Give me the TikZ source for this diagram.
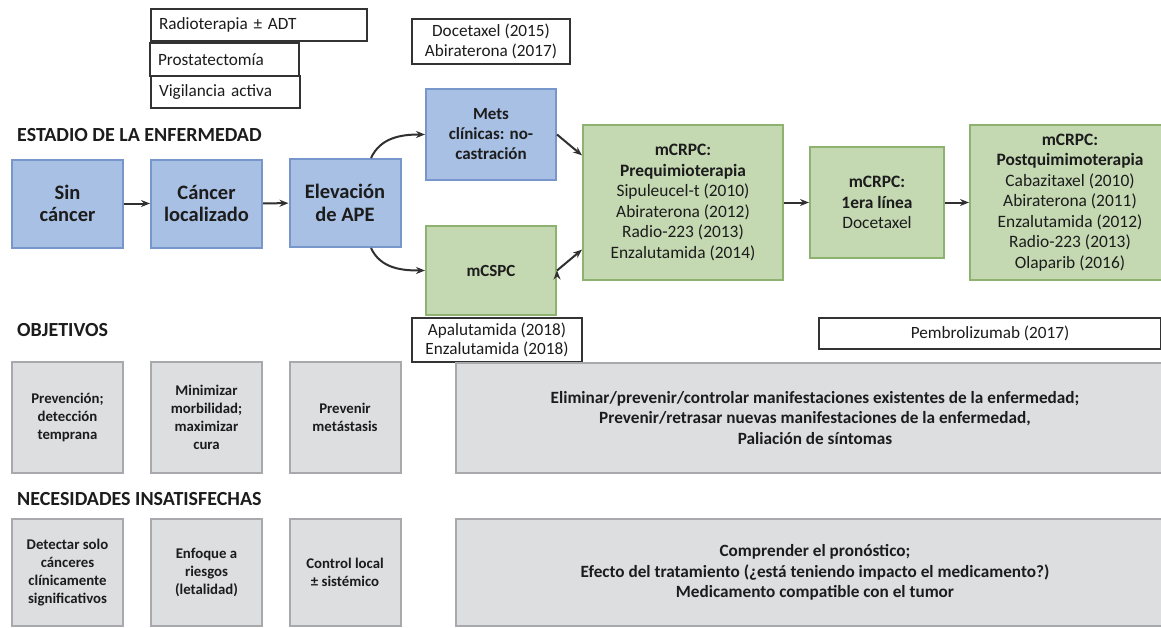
\documentclass[tikz,border=0pt]{standalone}
\usepackage{fontspec}
\setmainfont{Carlito}
\usetikzlibrary{positioning, arrows.meta}

\definecolor{bluefill}{RGB}{168,192,228}
\definecolor{blueedge}{RGB}{118,150,204}
\definecolor{greenfill}{RGB}{196,216,178}
\definecolor{greenedge}{RGB}{142,178,112}
\definecolor{grayfill}{RGB}{221,222,224}
\definecolor{grayedge}{RGB}{168,169,172}
\definecolor{txt}{RGB}{28,28,28}
\definecolor{arrcol}{RGB}{48,48,48}

\begin{document}
\begin{tikzpicture}[
    x=1pt, y=-1pt,
    text=txt,
    blubox/.style={draw=blueedge, line width=2pt, fill=bluefill, inner sep=0pt, align=center,
        font=\bfseries\fontsize{20.5}{22.5}\selectfont},
    grnbox/.style={draw=greenedge, line width=2pt, fill=greenfill, inner sep=0pt, align=center,
        font=\fontsize{17.4}{20.5}\selectfont},
    grybox/.style={draw=grayedge, line width=2pt, fill=grayfill, inner sep=0pt, align=center,
        font=\bfseries\fontsize{14.8}{18}\selectfont},
    tagbox/.style={draw=black!80, line width=1.2pt, fill=white, inner sep=0pt, align=center,
        font=\fontsize{17.2}{19.5}\selectfont},
    heading/.style={anchor=west, inner sep=0pt, font=\bfseries\fontsize{20}{24}\selectfont},
    arr/.style={-{Stealth[length=9pt,width=7pt]}, line width=2pt, draw=arrcol}
]
    \useasboundingbox (0,0) rectangle (1161,627);

    % treatment tags on top
    \node[tagbox, minimum width=216, minimum height=32, text width=200, align=left] (radio) at (259,25) {Radioterapia ± ADT};
    \node[tagbox, minimum width=149, minimum height=33, text width=133, align=left] (prost) at (224.5,59.5) {Prostatectomía};
    \node[tagbox, minimum width=149, minimum height=32, text width=133, align=left] (vigil) at (225.5,92) {Vigilancia activa};
    \node[tagbox, minimum width=158, minimum height=45] (doce) at (491,41.5) {Docetaxel (2015)\\Abiraterona (2017)};

    % disease stages
    \node[heading] (estadio) at (17,135) {ESTADIO DE LA ENFERMEDAD};
    \node[blubox, minimum width=111, minimum height=88] (sin) at (67.5,203.5) {Sin\\cáncer};
    \node[blubox, minimum width=111, minimum height=88] (loc) at (206.5,203.5) {Cáncer\\localizado};
    \node[blubox, minimum width=111, minimum height=88] (ape) at (345,203) {Elevación\\de APE};
    \node[blubox, minimum width=130, minimum height=91, font=\bfseries\fontsize{17}{20}\selectfont] (mets) at (491,134.5) {Mets\\clínicas: no-\\castración};
    \node[grnbox, minimum width=130, minimum height=89, font=\bfseries\fontsize{17}{20}\selectfont] (mcspc) at (491,270.5) {mCSPC};
    \node[grnbox, minimum width=200, minimum height=155] (pre) at (683,202.5) {\textbf{mCRPC:}\\\textbf{Prequimioterapia}\\Sipuleucel-t (2010)\\Abiraterona (2012)\\Radio-223 (2013)\\Enzalutamida (2014)};
    \node[grnbox, minimum width=134, minimum height=111] (lin1) at (877,202.5) {\textbf{mCRPC:}\\\textbf{1era línea}\\Docetaxel};
    \node[grnbox, minimum width=200, minimum height=155] (post) at (1070,202.5) {\textbf{mCRPC:}\\\textbf{Postquimimoterapia}\\Cabazitaxel (2010)\\Abiraterona (2011)\\Enzalutamida (2012)\\Radio-223 (2013)\\Olaparib (2016)};

    \node[tagbox, minimum width=170, minimum height=44] (apal) at (497,340) {Apalutamida (2018)\\Enzalutamida (2018)};
    \node[tagbox, minimum width=342, minimum height=31] (pembro) at (990,333.5) {Pembrolizumab (2017)};

    % objectives
    \node[heading] (objetivos) at (17,330) {OBJETIVOS};
    \node[grybox, minimum width=111, minimum height=111] (obj1) at (67.5,417.5) {Prevención;\\detección\\temprana};
    \node[grybox, minimum width=111, minimum height=111] (obj2) at (206.5,417.5) {Minimizar\\morbilidad;\\maximizar\\cura};
    \node[grybox, minimum width=111, minimum height=111] (obj3) at (345,417.5) {Prevenir\\metástasis};
    \node[grybox, minimum width=718, minimum height=110, font=\bfseries\fontsize{17.2}{20.5}\selectfont] (obj4) at (815,418) {Eliminar/prevenir/controlar manifestaciones existentes de la enfermedad;\\Prevenir/retrasar nuevas manifestaciones de la enfermedad,\\Paliación de síntomas};

    % unmet needs
    \node[heading] (necesidades) at (17,499) {NECESIDADES INSATISFECHAS};
    \node[grybox, minimum width=111, minimum height=107] (nec1) at (67.5,572.5) {Detectar solo\\cánceres\\clínicamente\\significativos};
    \node[grybox, minimum width=111, minimum height=107] (nec2) at (206.5,572.5) {Enfoque a\\riesgos\\(letalidad)};
    \node[grybox, minimum width=111, minimum height=107] (nec3) at (345,572.5) {Control local\\± sistémico};
    \node[grybox, minimum width=718, minimum height=107, font=\bfseries\fontsize{17.2}{20.5}\selectfont] (nec4) at (815,572.5) {Comprender el pronóstico;\\Efecto del tratamiento (¿está teniendo impacto el medicamento?)\\Medicamento compatible con el tumor};

    \path[arr]
        (sin) edge (loc)
        (loc) edge (ape)
        (ape.60) edge[out=65, in=180] (mets.west)
        (ape.-60) edge[out=-65, in=180] (mcspc.west)
        (mets.east) edge (pre.155)
        (mcspc.east) edge (pre.205)
        (pre) edge (lin1)
        (lin1) edge (post);
\end{tikzpicture}
\end{document}
